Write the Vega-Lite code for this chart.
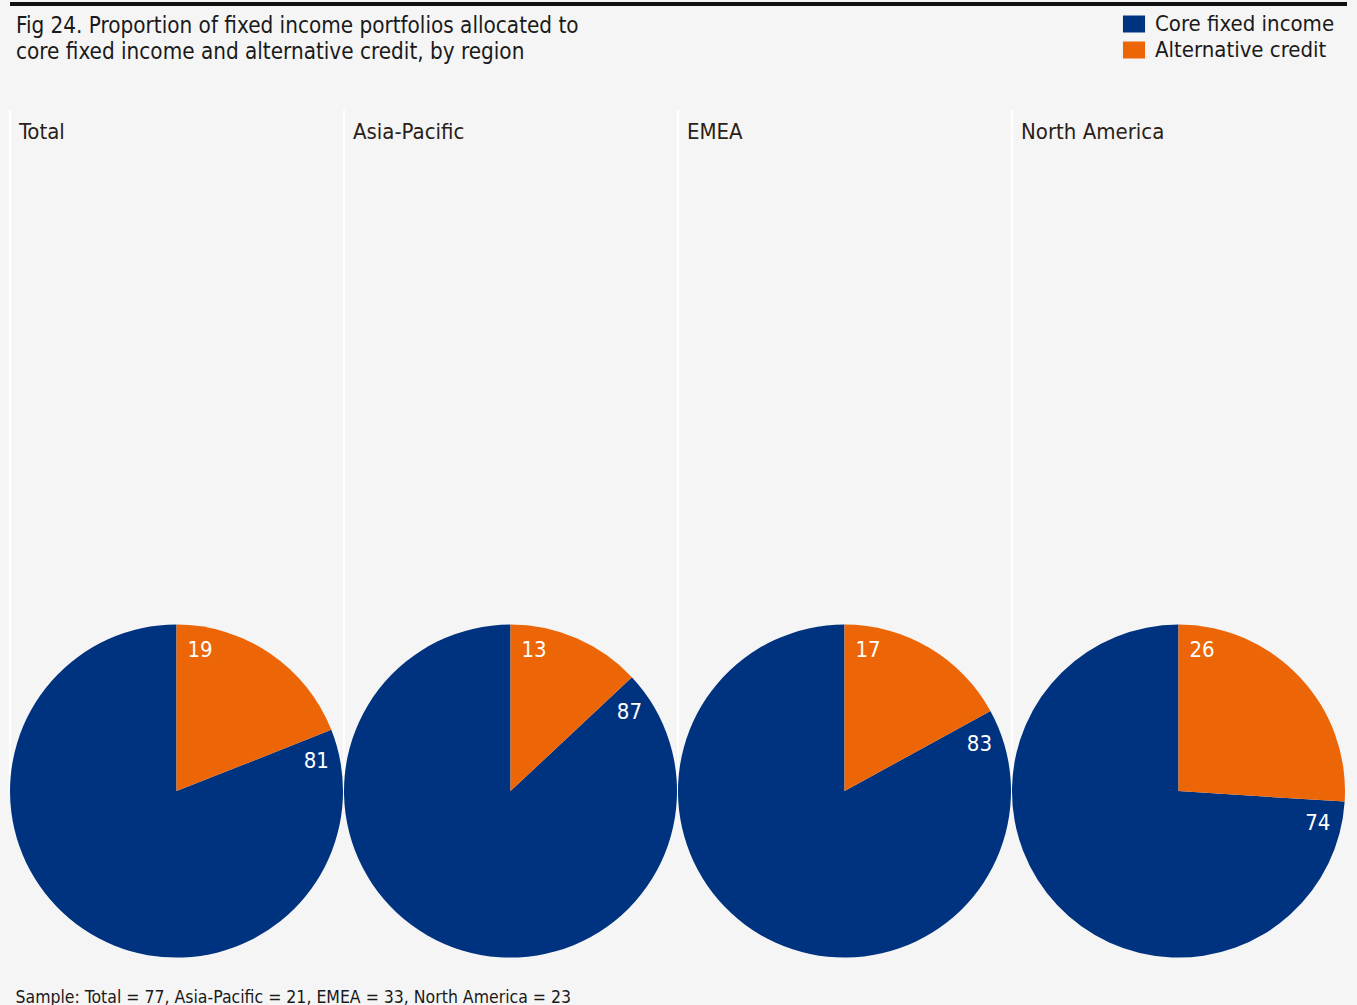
{
  "$schema": "https://vega.github.io/schema/vega-lite/v6.json",
  "background": "#f5f5f5",
  "padding": {"left": 8, "top": 2, "right": 12, "bottom": 0},
  "data": {"values": [
    {"region": "Total", "category": "Core fixed income", "value": 81},
    {"region": "Total", "category": "Alternative credit", "value": 19},
    {"region": "Asia-Pacific", "category": "Core fixed income", "value": 87},
    {"region": "Asia-Pacific", "category": "Alternative credit", "value": 13},
    {"region": "EMEA", "category": "Core fixed income", "value": 83},
    {"region": "EMEA", "category": "Alternative credit", "value": 17},
    {"region": "North America", "category": "Core fixed income", "value": 74},
    {"region": "North America", "category": "Alternative credit", "value": 26}
  ]},
  "title": {
    "text": "Sample: Total = 77, Asia-Pacific = 21, EMEA = 33, North America = 23",
    "orient": "bottom",
    "anchor": "start",
    "fontSize": 17.5,
    "fontWeight": "normal",
    "font": "Liberation Sans Narrow, DejaVu Sans Condensed, Roboto",
    "color": "#1a1a1a",
    "dx": 7,
    "offset": 19
  },
  "spacing": 8,
  "vconcat": [
    {
      "width": 1337,
      "height": 2,
      "mark": {"type": "rule", "color": "#111111", "strokeWidth": 3},
      "encoding": {
        "y": {"datum": 0.5, "type": "quantitative", "scale": {"domain": [0, 1]}, "axis": null}
      }
    },
    {
      "title": {
        "text": ["Fig 24. Proportion of fixed income portfolios allocated to", "core fixed income and alternative credit, by region"],
        "anchor": "start",
        "fontSize": 22.3,
        "fontWeight": "normal",
        "font": "Liberation Sans Narrow, DejaVu Sans Condensed, Roboto",
        "color": "#1a1a1a",
        "lineHeight": 26,
        "dx": 7,
        "offset": 46
      },
      "transform": [
        {"stack": "value", "groupby": ["region"], "sort": [{"field": "category", "order": "ascending"}], "as": ["v0", "v1"]}
      ],
      "facet": {
        "column": {
          "field": "region",
          "type": "nominal",
          "sort": ["Total", "Asia-Pacific", "EMEA", "North America"],
          "title": null,
          "header": {"labels": false, "title": null}
        }
      },
      "spacing": 0,
      "spec": {
        "width": 333,
        "height": 860,
        "layer": [
          {
            "mark": {"type": "rule", "color": "#ffffff", "strokeWidth": 2},
            "encoding": {
              "x": {"datum": 0, "type": "quantitative", "scale": {"domain": [0, 1]}, "axis": null},
              "y": {"datum": 1, "type": "quantitative", "scale": {"domain": [0, 1]}, "axis": null},
              "y2": {"datum": 0.208}
            }
          },
          {
            "transform": [{"filter": "datum.category === 'Core fixed income'"}],
            "mark": {"type": "text", "align": "left", "baseline": "alphabetic", "dx": 9, "dy": 29, "fontSize": 22, "font": "Liberation Sans Narrow, DejaVu Sans Condensed, Roboto", "color": "#2a2118"},
            "encoding": {
              "x": {"datum": 0, "type": "quantitative"},
              "y": {"datum": 1, "type": "quantitative"},
              "text": {"field": "region", "type": "nominal"}
            }
          },
          {
            "mark": {"type": "arc", "outerRadius": 166.5, "stroke": null},
            "encoding": {
              "y": {"datum": 0.208, "type": "quantitative"},
              "theta": {"field": "v0", "type": "quantitative", "scale": {"domain": [0, 100]}},
              "theta2": {"field": "v1"},
              "color": {
                "field": "category",
                "type": "nominal",
                "scale": {"domain": ["Core fixed income", "Alternative credit"], "range": ["#00337f", "#ec6608"]},
                "legend": {
                  "orient": "none",
                  "legendX": 1113,
                  "legendY": 10,
                  "title": null,
                  "labelFontSize": 22,
                  "labelLimit": 400,
                  "labelFont": "Liberation Sans Narrow, DejaVu Sans Condensed, Roboto",
                  "labelColor": "#1a1a1a",
                  "symbolType": "M-1.3,-1H1.3V1H-1.3Z",
                  "symbolSize": 289,
                  "symbolStrokeWidth": 0,
                  "symbolOpacity": 1,
                  "labelOffset": 10,
                  "rowPadding": 4
                }
              }
            }
          },
          {
            "mark": {"type": "text", "radius": 143, "thetaOffset": 0.165, "color": "#ffffff", "fontSize": 22, "font": "Liberation Sans Narrow, DejaVu Sans Condensed, Roboto", "align": "center", "baseline": "middle"},
            "encoding": {
              "y": {"datum": 0.208, "type": "quantitative"},
              "theta": {"field": "v0", "type": "quantitative"},
              "text": {"field": "value", "type": "quantitative"}
            }
          }
        ]
      }
    }
  ],
  "config": {
    "view": {"stroke": null}
  }
}
